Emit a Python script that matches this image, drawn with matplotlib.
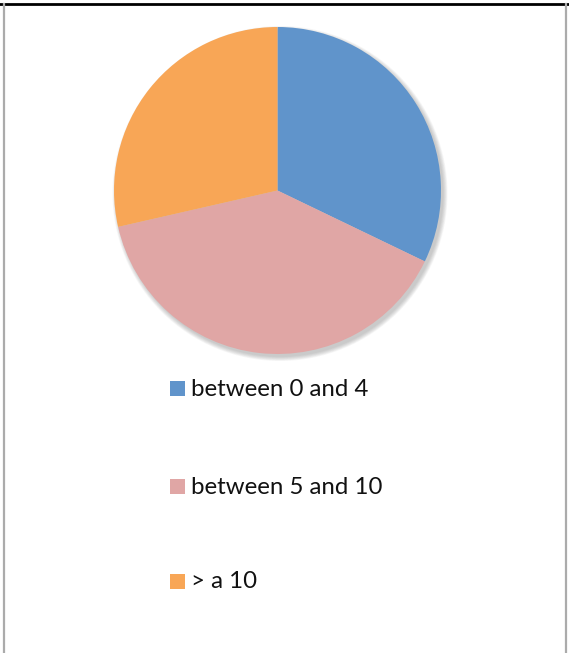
import matplotlib
matplotlib.use("Agg")
import matplotlib.pyplot as plt
from matplotlib.patches import Circle, Rectangle
from matplotlib.lines import Line2D

# Survey buckets and their counts
categories = ["between 0 and 4", "between 5 and 10", "> a 10"]
counts = [9, 11, 8]
colors = ["#6094CB", "#E0A6A5", "#F8A656"]

W, H = 569, 653
fig = plt.figure(figsize=(W / 100, H / 100), dpi=100)
ax = fig.add_axes([0, 0, 1, 1])
ax.set_xlim(0, W)
ax.set_ylim(0, H)
ax.set_aspect("equal")
ax.axis("off")

cx, cy, r = 277.5, H - 190.5, 163.5

# soft drop shadow behind the pie
for i in range(8):
    ax.add_patch(Circle((cx + 2.5, cy - 3), r + 4 - i * 0.6, color="#7f7f7f",
                        alpha=0.06, lw=0, zorder=1))

wedges, _ = ax.pie(counts, colors=colors, startangle=90, counterclock=False,
                   center=(cx, cy), radius=r, frame=True,
                   wedgeprops=dict(linewidth=0, zorder=2))
ax.set_xlim(0, W)
ax.set_ylim(0, H)
ax.axis("off")

# legend entries stacked under the pie
rows_y = [388, 486, 581]
for w, label, yy in zip(wedges, categories, rows_y):
    ax.add_patch(Rectangle((170, H - yy - 7.5), 15, 15, facecolor=w.get_facecolor(),
                           lw=0, zorder=3))
    ax.text(191, H - yy - 1, label, fontsize=17.3, family="Lato", color="#111111",
            va="center", ha="left", zorder=3)

# chart frame
fig.add_artist(Line2D([0, 1], [1 - 4 / H, 1 - 4 / H], color="black", lw=2,
                      transform=fig.transFigure))
fig.add_artist(Line2D([4 / W, 4 / W], [0, 1 - 4 / H], color="#ababab", lw=1.6,
                      transform=fig.transFigure))
fig.add_artist(Line2D([565.5 / W, 565.5 / W], [0, 1 - 4 / H], color="#ababab", lw=1.6,
                      transform=fig.transFigure))

fig.savefig("out.png", dpi=100)
